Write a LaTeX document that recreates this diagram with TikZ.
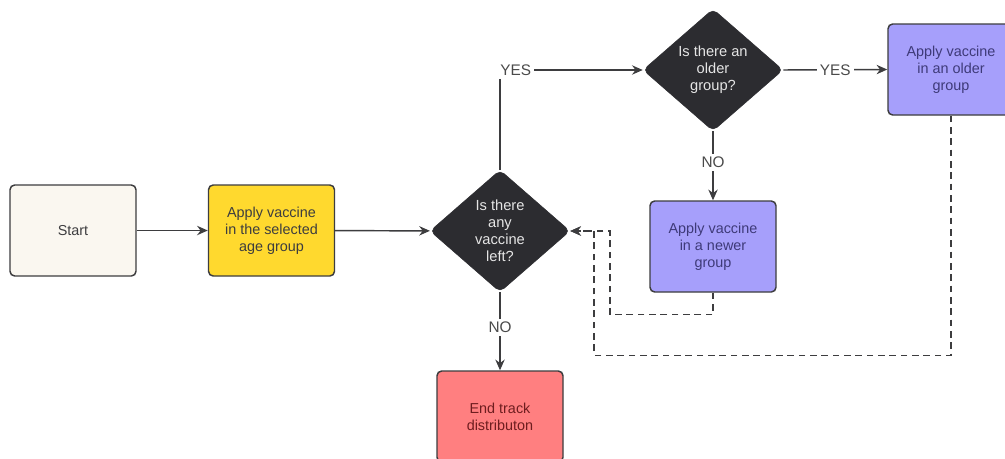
\documentclass[tikz,border=0pt]{standalone}
\usepackage{fontspec}
\setmainfont{Liberation Sans}
\usetikzlibrary{arrows.meta,shapes.geometric}

\definecolor{edgegray}{HTML}{3D3D3F}
\definecolor{startfill}{HTML}{FAF7F0}
\definecolor{yellowfill}{HTML}{FFD92E}
\definecolor{purplefill}{HTML}{A69FFB}
\definecolor{redfill}{HTML}{FF7F80}
\definecolor{darkfill}{HTML}{2C2C30}
\definecolor{labelgray}{HTML}{4A4A4A}
\definecolor{purpletext}{HTML}{3E3A78}
\definecolor{redtext}{HTML}{6E1D1F}

\tikzset{
  box/.style={draw=edgegray, line width=1.1pt, rounded corners=3.5pt,
    minimum width=94.5pt, minimum height=68.25pt, align=center,
    font=\fontsize{10.8}{12.75}\selectfont, text=edgegray},
  decision/.style={diamond, draw=darkfill, fill=darkfill, rounded corners=4pt,
    aspect=1.15, inner sep=0pt, minimum width=105pt, minimum height=91.5pt,
    align=center, text=white!90!black, font=\fontsize{11}{12.75}\selectfont},
  flow/.style={draw=edgegray, line width=1.1pt, -{Stealth[length=8pt,width=7pt]}},
  backflow/.style={flow, dash pattern=on 5pt off 3.5pt},
  answer/.style={fill=white, inner sep=2.5pt, text=labelgray,
    font=\fontsize{11.5}{13}\selectfont}
}

\begin{document}
\begin{tikzpicture}[x=0.75pt,y=0.75pt,yscale=-1,xscale=1]
\clip (0,0) rectangle (1005,458);
\fill[white] (0,0) rectangle (1005,458);

%Shape: Start
\node[box, fill=startfill] (start) at (73,230.5) {Start};
%Shape: Apply in selected group
\node[box, fill=yellowfill] (selected) at (271.5,230.5) {Apply vaccine\\in the selected\\age group};
%Shape: Diamond, vaccine left
\node[decision] (left) at (500,231) {Is there\\any\\vaccine\\left?};
%Shape: Diamond, older group
\node[decision] (older) at (713,70) {Is there an\\older\\group?};
%Shape: Apply in older group
\node[box, fill=purplefill, text=purpletext] (applyold) at (951,69.5) {Apply vaccine\\in an older\\group};
%Shape: Apply in newer group
\node[box, fill=purplefill, text=purpletext] (applynew) at (713,246.5) {Apply vaccine\\in a newer\\group};
%Shape: End
\node[box, fill=redfill, text=redtext] (finish) at (500,416.5) {End track\\distributon};

%Straight Lines
\draw[flow] (start) -- (selected);
\draw[flow] (selected) -- (left);
\draw[flow] (left.north) |- node[answer, pos=0.555] {YES} (older.west);
\draw[flow] (older.east) -- node[answer] {YES} (applyold.west);
\draw[flow] (older.south) -- node[answer, pos=0.45] {NO} (applynew.north);
\draw[flow] (left.south) -- node[answer, pos=0.45] {NO} (finish.north);

%Dashed Lines back to the question
\draw[backflow] (applynew.south) -- ++(0,22) -- ++(-103,0) |- (left.east);
\draw[backflow] (applyold.south) -- ++(0,239.5) -- ++(-357,0) |- (left.east);

\end{tikzpicture}
\end{document}
